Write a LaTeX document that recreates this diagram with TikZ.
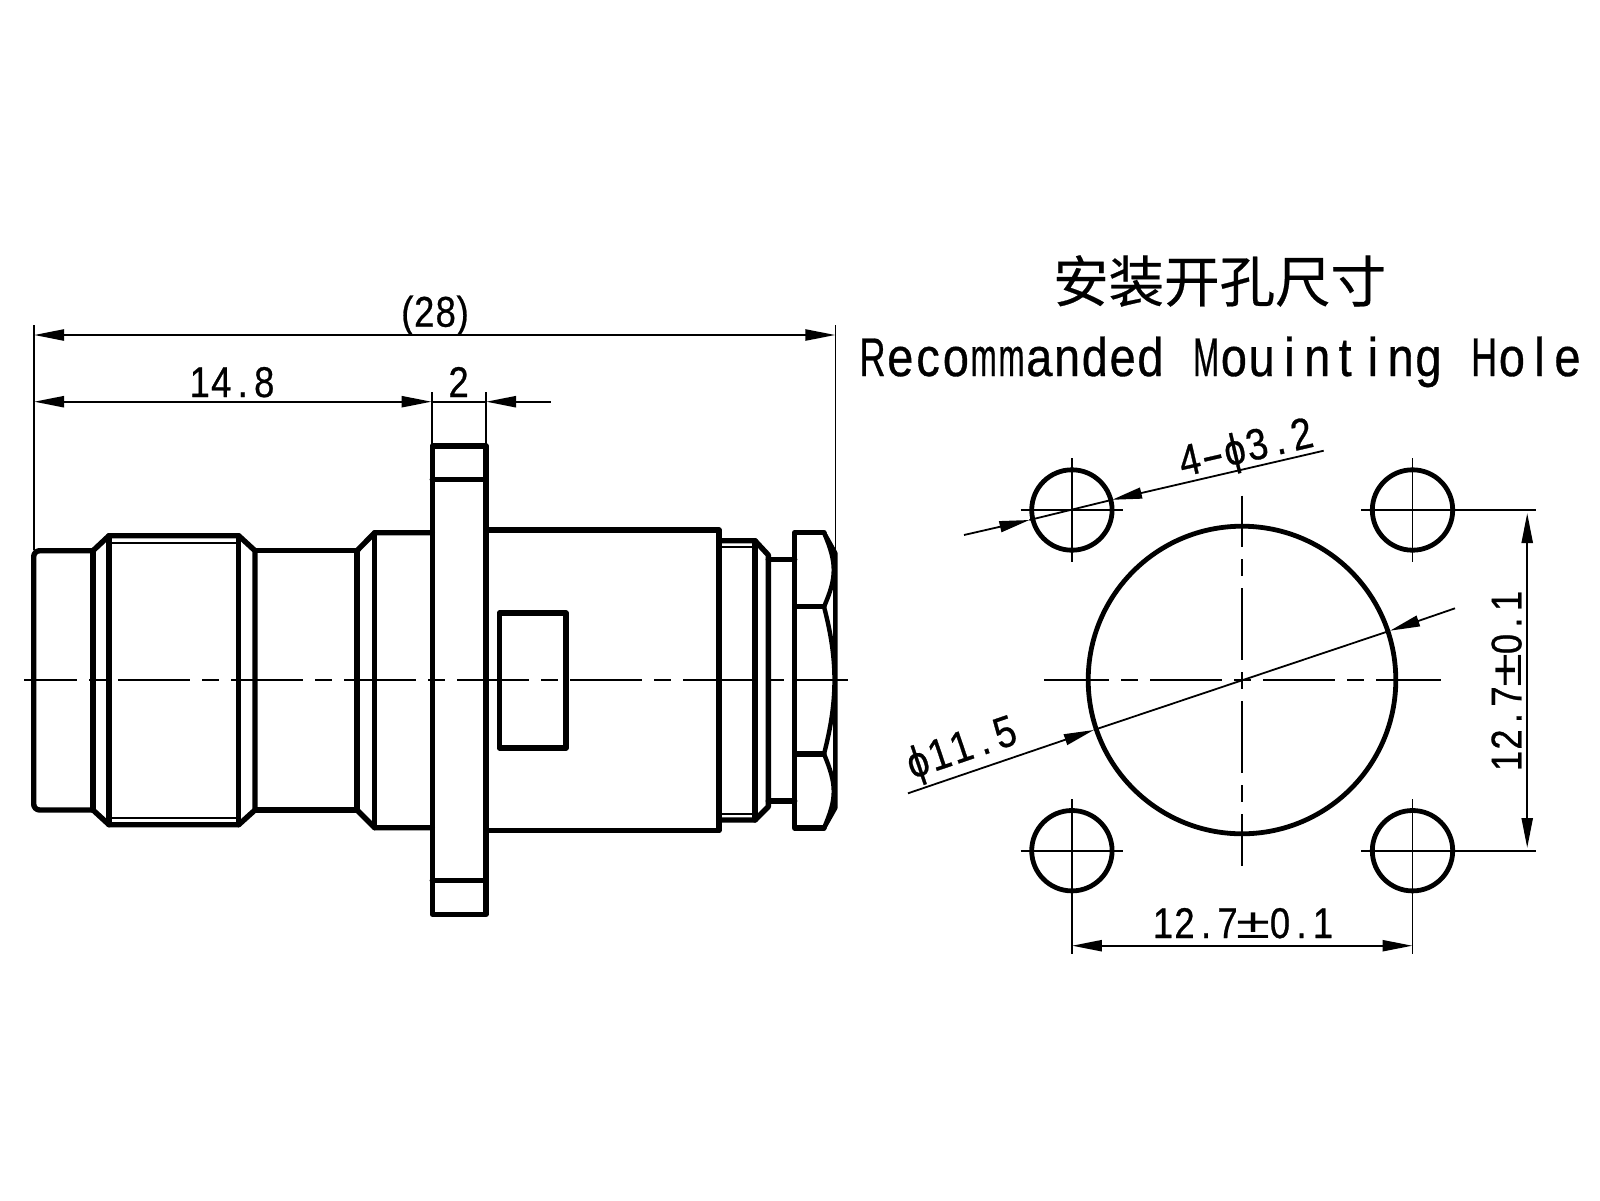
\documentclass[tikz,border=0pt]{standalone}
\usepackage{fontspec}
\usetikzlibrary{arrows.meta}
\setmainfont{Liberation Sans}
\newfontfamily\narrowf[FakeStretch=0.86,FakeBold=0.6]{Liberation Sans}
\newfontfamily\plainf{Liberation Sans}
\newfontfamily\cjkf[FakeBold=0.4]{Noto Sans CJK SC}
\newlength\cellw
\makeatletter
\newcommand\tmcell[1]{\setbox0=\hbox{#1}\ifdim\wd0>.94\cellw\relax\hbox to\cellw{\hss\resizebox{.94\cellw}{\height}{#1}\hss}\else\hbox to\cellw{\hss#1\hss}\fi}
\newcommand\tm[1]{\@tfor\tmx:=#1\do{\tmcell{\tmx}}}
\makeatother
\newcommand\pmw{\hbox to 31pt{\hss\resizebox{34pt}{\height}{\plainf ±}\hss}}
\newcommand\hyph{\hbox to\cellw{\hss\resizebox{\cellw}{\height}{-}\hss}}
\newcommand\dimfont{\narrowf\fontsize{43}{43}\selectfont\cellw=21.5pt\relax}
\newcommand\tiltfont{\narrowf\fontsize{44}{44}\selectfont\cellw=23pt\relax}
\newcommand\capfont{\narrowf\fontsize{54.5}{54.5}\selectfont\cellw=27.8pt\relax\spaceskip=27.8pt\relax}
\tikzset{
  heavy/.style={line width=5.4pt,line join=round,line cap=round},
  finer/.style={line width=2.2pt},
  hole/.style={line width=4.8pt},
  dimline/.style={line width=2.3pt},
  extline/.style={line width=1.8pt},
  axis/.style={line width=1.8pt,dash pattern=on 72pt off 12pt on 17pt off 12pt},
  lab/.style={inner sep=0pt,anchor=base},
  tipboth/.style={{Triangle[length=30pt,width=11pt]}-{Triangle[length=30pt,width=11pt]}},
  tipend/.style={-{Triangle[length=30pt,width=11pt]}},
}
\begin{document}
\begin{tikzpicture}[x=1pt,y=-1pt]
\useasboundingbox (0,0) rectangle (1600,1200);
% ---- connector side view: centre line
\coordinate (axL) at (24,680);
\coordinate (axR) at (848,680);
\draw[axis,dash phase=19pt] (axL) -- (axR);
% ---- front barrel
\draw[heavy,rounded corners=6pt] (93,550.7) -- (33.7,550.7) -- (33.7,810) -- (93,810);
\draw[heavy] (93,550.7) -- (93,810);
\draw[heavy] (93,550.7) -- (109,535.7) -- (238.7,535.7) -- (255,550.7) -- (255,810) -- (238.7,824.7) -- (109,824.7) -- (93,810);
\draw[heavy] (109,535.7) -- (109,824.7);
\draw[heavy] (238.7,535.7) -- (238.7,824.7);
\draw[finer] (109,542.7) -- (238.7,542.7);
\draw[finer] (109,817.7) -- (238.7,817.7);
\draw[heavy] (255,550.7) -- (357,550.7);
\draw[heavy] (255,810) -- (357,810);
\draw[heavy] (357,550.7) -- (357,810);
\draw[heavy] (357,550.7) -- (374.7,532.7) -- (432.3,532.7);
\draw[heavy] (357,810) -- (374.7,827.7) -- (432.3,827.7);
\draw[heavy] (374.7,532.7) -- (374.7,827.7);
% ---- flange
\draw[heavy] (432.3,446) rectangle (486,914.3);
\draw[heavy] (432.3,479.7) -- (486,479.7);
\draw[heavy] (432.3,880.7) -- (486,880.7);
% ---- rear body
\draw[heavy] (486,530) -- (719,530) -- (719,830.7) -- (486,830.7);
\draw[heavy] (499.3,613) rectangle (566,748);
\draw[heavy] (719,540.7) -- (755,540.7) -- (768.3,555) -- (768.3,806.7) -- (755,820) -- (719,820);
\draw[heavy] (755,540.7) -- (755,820);
\draw[finer] (719,546.7) -- (755,546.7);
\draw[finer] (719,814.3) -- (755,814.3);
\draw[heavy] (768.3,559.7) -- (794.7,559.7);
\draw[heavy] (768.3,801) -- (794.7,801);
% ---- nut
\draw[heavy] (824,532.7) -- (794.7,532.7) -- (794.7,828) -- (824,828);
\draw[heavy] (794.7,606.7) -- (824,606.7);
\draw[heavy] (794.7,754) -- (824,754);
\draw[line width=4.4pt,line join=round] (824,532.7) .. controls (837,563) and (837,577) .. (824,606.7)
   .. controls (838,660) and (838,700) .. (824,754)
   .. controls (837,785) and (837,798) .. (824,828);
\draw[line width=4.4pt,line join=round] (824,532.7) -- (835.3,553) -- (835.3,808) -- (824,828);
% ---- dimensions, side view
\coordinate (eL) at (34,325);   \coordinate (eLb) at (34,550);
\coordinate (eR) at (835.4,325);\coordinate (eRb) at (835.4,553);
\coordinate (eA) at (431.7,392);\coordinate (eAb) at (431.7,446);
\coordinate (eB) at (486,392);  \coordinate (eBb) at (486,446);
\draw[extline] (eL) -- (eLb);
\draw[extline] (eR) -- (eRb);
\draw[extline] (eA) -- (eAb);
\draw[extline] (eB) -- (eBb);
\coordinate (d1a) at (34,335);  \coordinate (d1b) at (835.4,335);
\draw[dimline,tipboth] (d1a) -- (d1b);
\coordinate (d2a) at (34,401.7);\coordinate (d2b) at (431.7,401.7);
\coordinate (d2c) at (486,401.7);\coordinate (d2d) at (550.7,401.7);
\draw[dimline,tipboth] (d2a) -- (d2b);
\draw[dimline] (d2b) -- (d2c);
\draw[dimline,tipend] (d2d) -- (d2c);
\node[lab] (t28) at (435,326.7) {\dimfont(\tm{28})};
\node[lab] (t148) at (232,397) {\dimfont\tm{14.8}};
\node[lab] (t2) at (458.6,397) {\dimfont\tm{2}};
% ---- titles
\node[lab] (title) at (1219.6,302) {\cjkf\fontsize{55.5}{55.5}\selectfont 安装开孔尺寸};
\node[lab] (sub) at (1220,376) {\capfont\tm{Recommanded} \tm{Mouinting} \tm{Hole}};
% ---- mounting hole view
\coordinate (C) at (1242,680);
\coordinate (H1) at (1071.9,510);
\coordinate (H2) at (1412.5,510);
\coordinate (H3) at (1071.9,850.7);
\coordinate (H4) at (1412.5,850.7);
\draw[hole] (C) circle[radius=153.8];
\foreach \h in {H1,H2,H3,H4}{\draw[hole] (\h) circle[radius=40.2];}
\coordinate (cvT) at (1242,495.7);\coordinate (cvB) at (1242,865.7);
\coordinate (chL) at (1044,680);\coordinate (chR) at (1441,680);
\draw[axis,dash phase=20.7pt] (cvT) -- (cvB);
\draw[axis,dash phase=7pt] (chL) -- (chR);
% hole cross lines
\draw[extline] (1020.5,510) -- (1123,510);
\draw[extline] (1020.5,850.7) -- (1123,850.7);
\draw[extline] (1361,510) -- (1536,510);
\draw[extline] (1361,850.7) -- (1536,850.7);
\draw[extline] (1071.9,458) -- (1071.9,561.7);
\draw[extline] (1412.5,458) -- (1412.5,561.7);
\draw[extline] (1071.9,799) -- (1071.9,954);
\draw[extline] (1412.5,799) -- (1412.5,954);
% 12.7 horizontal
\coordinate (hA) at (1071.9,945.7);\coordinate (hB) at (1412.5,945.7);
\draw[dimline,tipboth] (hA) -- (hB);
\node[lab] (th) at (1243,938) {\dimfont\tm{12.7}\pmw\tm{0.1}};
% 12.7 vertical
\coordinate (vA) at (1527.2,513);\coordinate (vB) at (1527.2,848);
\draw[dimline,tipboth] (vA) -- (vB);
\node[lab,rotate=90] (tv) at (1521.4,681) {\dimfont\tm{12.7}\pmw\tm{0.1}};
% diameter 11.5
\coordinate (bA) at (908,793.3);\coordinate (bAt) at (1093.8,730);
\coordinate (bB) at (1455,608.3);\coordinate (bBt) at (1390,630.7);
\draw[extline] (bAt) -- (bBt);
\draw[extline,tipend] (bA) -- (bAt);
\draw[extline,tipend] (bB) -- (bBt);
\node[lab,rotate=18.7] (tb) at (966,761) {\tiltfont\tm{ϕ11.5}};
% diameter 3.2
\coordinate (sA) at (964,535);\coordinate (sAt) at (1029.4,520);
\coordinate (sB) at (1323.7,450.7);\coordinate (sBt) at (1112,499.8);
\draw[extline] (sAt) -- (sBt);
\draw[extline,tipend] (sA) -- (sAt);
\draw[extline,tipend] (sB) -- (sBt);
\node[lab,rotate=13] (ts) at (1249,461.6) {\tiltfont\tm{4}\hyph\tm{ϕ3.2}};
\end{tikzpicture}
\end{document}
